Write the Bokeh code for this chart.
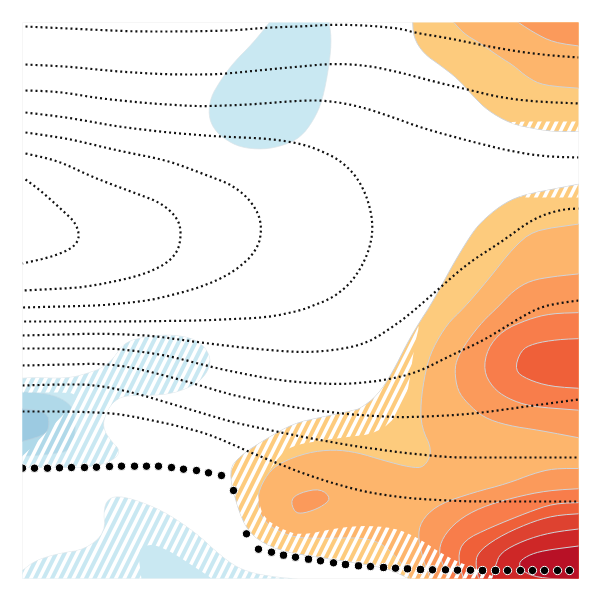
from bokeh.plotting import figure
from bokeh.embed import file_html
from bokeh.resources import INLINE

# ---- filled field regions (x, y in the chart's own units; y grows downward)
blue_top = [(272,18),(253,42),(233,62),(220,80),(210,97),(208,115),(213,128),(223,138),(240,147),(263,149),(283,145),(300,137),(313,120),(322,100),(329,63),(331,37),(328,18)]
blue_left = [(18,378),(33,377),(67,378),(87,373),(103,367),(113,358),(123,343),(140,337),(167,334),(190,337),(203,345),(210,357),(208,370),(197,383),(173,393),(147,395),(123,395),(112,402),(105,413),(102,427),(110,440),(120,450),(113,460),(90,467),(18,467)]
blue_left_mid = [(18,391),(48,393),(65,400),(74,410),(75,430),(72,450),(48,454),(18,456)]
blue_left_dark = [(18,408),(47,411),(49,427),(43,435),(18,442)]
blue_bottom = [(18,582),(18,572),(22,570),(35,560),(58,553),(85,549),(105,532),(103,507),(110,496),(128,497),(162,510),(195,532),(222,557),(242,570),(268,576),(302,579),(302,582)]

or1_main = [(582,183),(520,195),(500,205),(480,222),(470,235),(453,263),(440,287),(428,308),(420,320),(407,342),(392,372),(377,395),(360,408),(353,410),(320,417),(293,423),(263,440),(240,455),(228,470),(237,507),(247,530),(263,543),(287,552),(360,563),(387,568),(407,577),(412,582),(582,582)]
or2_main = [(582,223),(533,230),(513,247),(487,280),(463,308),(447,323),(432,348),(425,370),(420,403),(421,427),(432,450),(424,467),(410,467),(383,460),(357,452),(333,449),(307,452),(280,462),(267,473),(257,493),(258,512),(270,527),(293,537),(320,538),(360,537),(380,542),(397,557),(407,573),(412,582),(582,582)]
or3_up = [(582,273),(553,276),(530,280),(513,290),(497,307),(483,320),(467,340),(457,357),(454,370),(457,390),(467,403),(483,417),(507,425),(540,430),(582,438)]
or3_low = [(582,468),(553,468),(533,473),(507,483),(473,492),(440,503),(423,517),(417,533),(422,557),(428,573),(431,582),(582,582)]
or3_small = [(290,499),(300,492),(320,488),(331,498),(320,507),(303,513),(294,512)]
or4_up = [(582,312),(550,313),(527,319),(502,330),(487,348),(483,370),(492,387),(507,398),(530,406),(582,410)]
or4_low = [(582,488),(547,490),(513,497),(480,507),(457,520),(442,537),(438,553),(445,570),(449,582),(582,582)]
or5_up = [(582,338),(557,339),(533,343),(520,350),(514,370),(527,379),(550,386),(582,388)]
or5_low = [(582,502),(553,503),(527,512),(490,527),(463,540),(457,557),(464,582),(582,582)]
or6_low = [(582,513),(553,515),(527,523),(497,537),(477,552),(475,565),(479,582),(582,582)]
or7_low = [(582,528),(550,532),(523,540),(500,552),(495,565),(490,582),(582,582)]
or8_low = [(582,545),(543,550),(527,555),(517,563),(525,573),(543,578),(582,579)]
or1_top = [(412,18),(413,37),(423,53),(440,65),(457,78),(472,95),(487,110),(510,123),(533,128),(553,131),(582,131),(582,18)]
or2_top = [(450,18),(463,33),(480,43),(500,57),(513,65),(527,77),(543,85),(582,88),(582,18)]
or3_top = [(512,18),(533,32),(553,42),(582,46),(582,18)]

# ---- regions carrying the white hatching
hatch_left = [(18,378),(33,377),(67,378),(87,373),(103,367),(113,358),(123,343),(140,337),(167,334),(190,337),(203,345),(210,357),(208,370),(197,383),(173,393),(147,395),(123,395),(112,402),(105,413),(102,427),(110,440),(120,450),(113,460),(90,467),(18,467),(18,458),(22,456),(72,405),(78,392),(18,392)]
hatch_bottom = [(18,582),(18,572),(22,570),(35,560),(58,553),(85,549),(105,532),(103,507),(110,496),(128,497),(162,510),(195,532),(222,557),(242,570),(268,576),(302,579),(302,582),(212,582),(212,578),(195,567),(172,552),(152,543),(137,548),(141,578),(141,582)]
hatch_main = [(420,320),(414,345),(409,380),(406,395),(400,412),(377,433),(343,437),(300,443),(283,450),(267,473),(257,490),(258,500),(263,517),(280,528),(300,535),(333,528),(360,525),(393,527),(417,537),(447,557),(480,570),(497,578),(497,582),(412,582),(407,577),(387,568),(360,563),(287,552),(263,543),(247,530),(237,507),(228,470),(240,455),(263,440),(293,423),(320,417),(353,410),(360,408),(377,395),(392,372),(407,342)]
hatch_top_a = [(510,121),(582,121),(582,131),(553,131),(533,128),(510,123)]
hatch_top_b = [(582,183),(582,197),(520,197),(520,195)]

# ---- dotted contour lines
dot_1 = [(25,26),(67,28),(133,31),(183,31),(233,30),(267,27),(300,26),(333,24),(367,25),(400,28),(413,32),(450,38),(483,45),(517,51),(550,55),(578,57)]
dot_2 = [(25,64),(67,66),(117,71),(167,74),(217,74),(267,69),(300,66),(333,63),(367,65),(400,72),(433,81),(467,89),(500,97),(533,101),(578,103)]
dot_3 = [(25,90),(57,91),(100,98),(150,103),(200,106),(250,104),(300,100),(327,100),(360,106),(393,117),(423,128),(467,140),(507,150),(543,156),(578,157)]
dot_4 = [(25,112),(67,117),(117,126),(167,132),(217,136),(267,138),(300,143),(320,150),(340,160),(357,177),(368,200),(373,227),(368,253),(353,280),(333,297),(313,305),(300,310),(267,317),(200,320),(130,321),(22,321)]
dot_5 = [(25,132),(67,138),(117,150),(167,160),(207,175),(233,185),(253,203),(262,225),(257,250),(233,272),(200,287),(150,300),(100,305),(22,307)]
dot_6 = [(25,153),(57,160),(93,177),(133,192),(160,202),(177,217),(181,233),(177,253),(160,267),(133,277),(83,287),(23,290)]
dot_7 = [(25,179),(40,190),(60,208),(77,224),(79,243),(57,255),(22,263)]
dot_8 = [(22,335),(100,333),(150,335),(200,342),(250,348),(300,352),(333,350),(367,343),(403,319),(433,293),(467,263),(500,242),(533,218),(560,209),(578,208)]
dot_9 = [(22,348),(67,348),(117,348),(167,355),(217,368),(267,378),(300,382),(343,384),(383,380),(417,372),(450,355),(483,340),(520,317),(543,305),(578,300)]
dot_10 = [(22,365),(67,364),(100,363),(133,367),(183,380),(233,395),(300,408),(350,414),(400,417),(450,415),(483,412),(533,405),(578,399)]
dot_11 = [(22,385),(57,384),(93,384),(133,392),(183,407),(233,422),(300,436),(350,445),(400,452),(450,457),(578,457)]
dot_12 = [(22,411),(73,411),(117,413),(167,423),(207,433),(250,452),(300,472),(333,483),(367,492),(410,498),(467,501),(578,501)]

# ---- large black dots
big_x = [22,34,47,59,71,84,96,109,121,134,146,158,171,183,196,208,221,233,246,258,271,283,295,308,320,333,345,358,370,383,395,407,420,432,445,457,470,482,495,507,520,532,544,557,569]
big_y = [467.7,467.7,467.7,467.3,467,467,466.7,466,465.7,465.7,465.7,465.7,467,468.7,470,472.3,475,490,533.3,548.7,551.7,554.7,556.7,558.7,560.3,562.3,564,565.3,566,567,567.7,568.3,569,569.3,569.3,569.7,569.7,570,570,570,570,570,570,570,570]

BLUE1, BLUE2, BLUE3 = "#c9e8f2", "#b0d9e9", "#9ccae1"
OR = ["#fdcb7d", "#fdb56c", "#fb9a5b", "#f87d4b", "#ef6039", "#de4230", "#ce2727", "#b81126"]
EDGE = "#cfd3d8"

p = figure(width=590, height=590, x_range=(22, 578), y_range=(578, 22),
           output_backend="svg", toolbar_location=None,
           min_border_left=22, min_border_top=22, min_border_right=12, min_border_bottom=12,
           background_fill_color="white", outline_line_color="#f6f6f6")
p.axis.visible = False
p.grid.visible = False

def off(c):
    return c[0] >= 582 or c[0] <= 18 or c[1] <= 18 or c[1] >= 582

def round_corners(a, closed, n=2, limit=9.0):
    # rounds the drawn outline at each vertex; off-frame vertices and open ends stay put
    pts = list(a)
    for _ in range(n):
        out = []
        m = len(pts)
        for i, c in enumerate(pts):
            if off(c) or (not closed and i in (0, m - 1)):
                out.append(c)
                continue
            prev, nxt = pts[(i - 1) % m], pts[(i + 1) % m]
            for o in (prev, nxt):
                d = ((o[0]-c[0])**2 + (o[1]-c[1])**2) ** 0.5 or 1.0
                t = min(0.25, limit / d)
                q = (c[0] + (o[0]-c[0])*t, c[1] + (o[1]-c[1])*t)
                out.append(q)
        pts = out
    return [q[0] for q in pts], [q[1] for q in pts]

def fill(a, color, edge=EDGE, w=1.0):
    x, y = round_corners(a, True)
    p.patch(x, y, fill_color=color, line_color=edge, line_width=w)

for a in (blue_top, blue_left, blue_bottom):
    fill(a, BLUE1, edge="#dbe4e8", w=0.7)
fill(blue_left_mid, BLUE2, edge="#c3dbe6", w=0.7)
fill(blue_left_dark, BLUE3, edge="#b7cfdc", w=0.7)
for a, c in [(or1_main, 0), (or1_top, 0), (or2_main, 1), (or2_top, 1), (or3_up, 2), (or3_low, 2),
             (or3_small, 2), (or3_top, 2), (or4_up, 3), (or4_low, 3), (or5_up, 4), (or5_low, 4),
             (or6_low, 5), (or7_low, 6), (or8_low, 7)]:
    fill(a, OR[c])

for a in (hatch_left, hatch_bottom, hatch_main, hatch_top_a, hatch_top_b):
    x, y = round_corners(a, True)
    p.patch(x, y, fill_alpha=0, line_alpha=0, hatch_pattern="right_diagonal_line",
            hatch_color="white", hatch_scale=17, hatch_weight=3.6)

for a in (dot_1, dot_2, dot_3, dot_4, dot_5, dot_6, dot_7, dot_8, dot_9, dot_10, dot_11, dot_12):
    x, y = round_corners(a, False)
    p.line(x, y, line_color="#111111", line_width=2.2, line_dash="2 3", line_join="round")

p.scatter(big_x, big_y, size=8.3, marker="circle", fill_color="black", line_color="white", line_width=1)

open("out.html", "w").write(file_html(p, INLINE))
